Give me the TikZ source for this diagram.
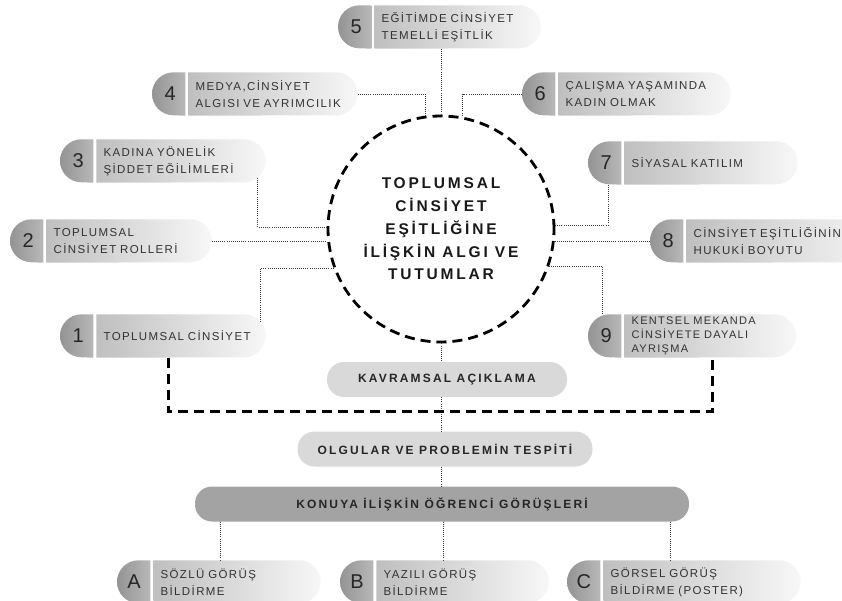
\documentclass[tikz,border=0pt]{standalone}
\usepackage{fontspec}
\setmainfont{Liberation Sans}
\newfontfamily\pillfont[LetterSpace=12]{Liberation Sans}
\newfontfamily\headfont[LetterSpace=18]{Liberation Sans}
\usetikzlibrary{positioning, calc, backgrounds}

\tikzset{
  numbox/.style={rectangle, minimum width=33pt, minimum height=43pt, inner sep=0pt,
    text width=14pt, align=right, text=black!85, font=\fontsize{20}{20}\selectfont},
  txtbox/.style={rectangle, minimum height=43pt, inner xsep=7pt, inner ysep=0pt,
    align=left, text=black!80, font=\pillfont\fontsize{11.5}{17}\selectfont},
  numshade/.style={left color=black!42, right color=black!28},
  txtshade/.style={left color=black!25, right color=black!3},
  stagebox/.style={rectangle, rounded corners=17pt, minimum height=35pt, fill=black!15,
    text=black!85, font=\headfont\bfseries\fontsize{12}{14}\selectfont},
  link/.style={line width=0.9pt, black!75, dash pattern=on 1pt off 1.1pt},
  bracket/.style={line width=2.8pt, dash pattern=on 10pt off 6pt},
}

\begin{document}
\begin{tikzpicture}[x=1pt, y=1pt]
  \useasboundingbox (0,0) rectangle (842,-601);

  % central topic
  \node[circle, draw, line width=2.8pt, dash pattern=on 10pt off 6pt, minimum size=226pt,
    inner sep=0pt, align=center, text=black!90,
    font=\headfont\bfseries\fontsize{15.5}{22.7}\selectfont] (circ) at (441,-229)
    {TOPLUMSAL\\CİNSİYET\\EŞİTLİĞİNE\\İLİŞKİN ALGI VE\\TUTUMLAR};

  % numbered topics
  \foreach \id/\x/\y/\w/\txt in {
    5/338/27/166/{EĞİTİMDE CİNSİYET\\TEMELLİ EŞİTLİK},
    4/152/94/169/{MEDYA,CİNSİYET\\ALGISI VE AYRIMCILIK},
    6/522/94/172/{ÇALIŞMA YAŞAMINDA\\KADIN OLMAK},
    3/60/161/169/{KADINA YÖNELİK\\ŞİDDET EĞİLİMLERİ},
    7/588/163/173/{SİYASAL KATILIM},
    2/10/241/165/{TOPLUMSAL\\CİNSİYET ROLLERİ},
    8/650/241/194/{CİNSİYET EŞİTLİĞİNİN\\HUKUKİ BOYUTU},
    1/60/336/169/{TOPLUMSAL CİNSİYET},
    9/588/336/171/{\fontsize{11}{14.3}\selectfont KENTSEL MEKANDA\\CİNSİYETE DAYALI\\AYRIŞMA\endgraf},
    A/117/582/167/{SÖZLÜ GÖRÜŞ\\BİLDİRME},
    B/340/582/172/{YAZILI GÖRÜŞ\\BİLDİRME},
    C/567/582/197/{GÖRSEL GÖRÜŞ\\BİLDİRME (POSTER)}
  } {
    \pgfmathsetmacro{\tw}{\w-14}
    \node[numbox, anchor=west] (n\id) at (\x,-\y) {\id};
    \node[txtbox, text width=\tw pt, right=3pt of n\id] (t\id) {\txt};
    \begin{pgfonlayer}{background}
      \shade[numshade] (n\id.north east) -- ($(n\id.north west)+(21.5,0)$)
        arc[start angle=90, end angle=270, radius=21.5pt] -- (n\id.south east) -- cycle;
      \shade[txtshade] (t\id.north west) -- ($(t\id.north east)+(-21.5,0)$)
        arc[start angle=90, end angle=-90, radius=21.5pt] -- (t\id.south west) -- cycle;
    \end{pgfonlayer}
  }

  % stages
  \node[stagebox, minimum width=240pt] (kav) at (447,-379.5) {KAVRAMSAL AÇIKLAMA};
  \node[stagebox, minimum width=295pt] (olg) at (445,-449) {OLGULAR VE PROBLEMİN TESPİTİ};
  \node[stagebox, minimum width=494pt, fill=black!36] (kon) at (442,-504) {KONUYA İLİŞKİN ÖĞRENCİ GÖRÜŞLERİ};

  % dotted links to the circle
  \draw[link] (circ.north) -- (circ.north |- t5.south);
  \draw[link] (t4.east) -| (circ.98);
  \draw[link] (n6.west) -| (circ.79);
  \draw[link] ($(t3.south east)+(-8,5)$) |- (circ.179);
  \draw[link] (t2.east) -- (t2.east -| circ.west);
  \draw[link] ($(t1.north east)+(-5,-8)$) |- (circ.200);
  \draw[link] ($(n7.south)+(3.5,0)$) |- (circ.2);
  \draw[link] (n8.west) -- (n8.west -| circ.east);
  \draw[link] ($(n9.north)+(-2.5,0)$) |- (circ.341);

  % stage links
  \draw[link] (circ.south) -- (circ.south |- kav.north);
  \draw[link] (kav.south -| circ.south) -- (olg.north -| circ.south);
  \draw[link] (olg.south -| circ.south) -- (kon.north -| circ.south);
  \foreach \s in {A,B,C} {
    \coordinate (p\s) at ($(t\s.north west)+(67,0)$);
    \draw[link] (p\s |- kon.south) -- (p\s);
  }

  % dashed bracket under 1 and 9
  \draw[bracket] ($(t1.south west)+(72,0)$) |- ($(t9.south west)+(88,-54)$) -- ($(t9.south west)+(88,0)$);
\end{tikzpicture}
\end{document}
